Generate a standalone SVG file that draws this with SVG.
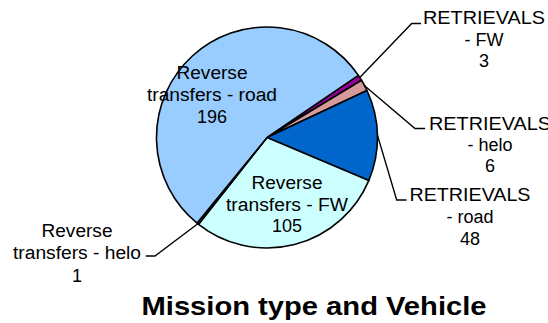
<svg xmlns="http://www.w3.org/2000/svg" width="548" height="323" viewBox="0 0 548 323">
<style>
.s{stroke:#000;stroke-width:1.6;stroke-linejoin:round}
.l{fill:none;stroke:#000;stroke-width:1.4}
text{font-family:"Liberation Sans",Arial,sans-serif;font-size:18px;fill:#000;text-anchor:middle}
.t{font-size:26px;font-weight:bold}
</style>
<rect width="548" height="323" fill="#fff"/>
<g id="slice-ret-fw"><path class="s" fill="#990099" d="M267,137.5 L358.39,75.39 A110.5,110.5 0 0 1 361.53,80.27 Z"/></g>
<g id="slice-ret-helo"><path class="s" fill="#D69A9A" d="M267,137.5 L361.53,80.27 A110.5,110.5 0 0 1 367,90.49 Z"/></g>
<g id="slice-ret-road"><path class="s" fill="#0066CC" d="M267,137.5 L367,90.49 A110.5,110.5 0 0 1 368.75,180.61 Z"/></g>
<g id="slice-rt-fw"><path class="s" fill="#CCFFFF" d="M267,137.5 L368.75,180.61 A110.5,110.5 0 0 1 198.59,224.28 Z"/></g>
<g id="slice-rt-helo"><path class="s" fill="#666699" d="M267,137.5 L198.59,224.28 A110.5,110.5 0 0 1 197.09,223.07 Z"/></g>
<g id="slice-rt-road"><path class="s" fill="#99CCFF" d="M267,137.5 L197.09,223.07 A110.5,110.5 0 1 1 358.39,75.39 Z"/></g>
<g id="connectors">
<polyline class="l" points="359.8,77.6 411.7,23.5 421,23.5"/>
<polyline class="l" points="364,85.2 415,128.5 425,128.5"/>
<polyline class="l" points="377.5,135.4 396.7,200 406.5,200"/>
<polyline class="l" points="197.8,223.7 155,256 145.7,256"/>
</g>
<g id="label-rt-road">
<text x="212" y="79" textLength="71" lengthAdjust="spacingAndGlyphs">Reverse</text>
<text x="212" y="101" textLength="130" lengthAdjust="spacingAndGlyphs">transfers - road</text>
<text x="212" y="123">196</text>
</g>
<g id="label-rt-fw">
<text x="287" y="188.5" textLength="71" lengthAdjust="spacingAndGlyphs">Reverse</text>
<text x="287" y="210.5" textLength="122" lengthAdjust="spacingAndGlyphs">transfers - FW</text>
<text x="287" y="232">105</text>
</g>
<g id="label-rt-helo">
<text x="77" y="237" textLength="71" lengthAdjust="spacingAndGlyphs">Reverse</text>
<text x="77" y="258.5" textLength="128" lengthAdjust="spacingAndGlyphs">transfers - helo</text>
<text x="77" y="281.5">1</text>
</g>
<g id="label-ret-fw">
<text x="484" y="24" textLength="122" lengthAdjust="spacingAndGlyphs">RETRIEVALS</text>
<text x="484" y="45.5">- FW</text>
<text x="484" y="67">3</text>
</g>
<g id="label-ret-helo">
<text x="490" y="129.5" textLength="122" lengthAdjust="spacingAndGlyphs">RETRIEVALS</text>
<text x="490" y="151">- helo</text>
<text x="490" y="172">6</text>
</g>
<g id="label-ret-road">
<text x="470" y="201" textLength="121" lengthAdjust="spacingAndGlyphs">RETRIEVALS</text>
<text x="470" y="223">- road</text>
<text x="470" y="245">48</text>
</g>
<g id="title">
<text class="t" x="314" y="315" textLength="345" lengthAdjust="spacingAndGlyphs">Mission type and Vehicle</text>
</g>
</svg>
